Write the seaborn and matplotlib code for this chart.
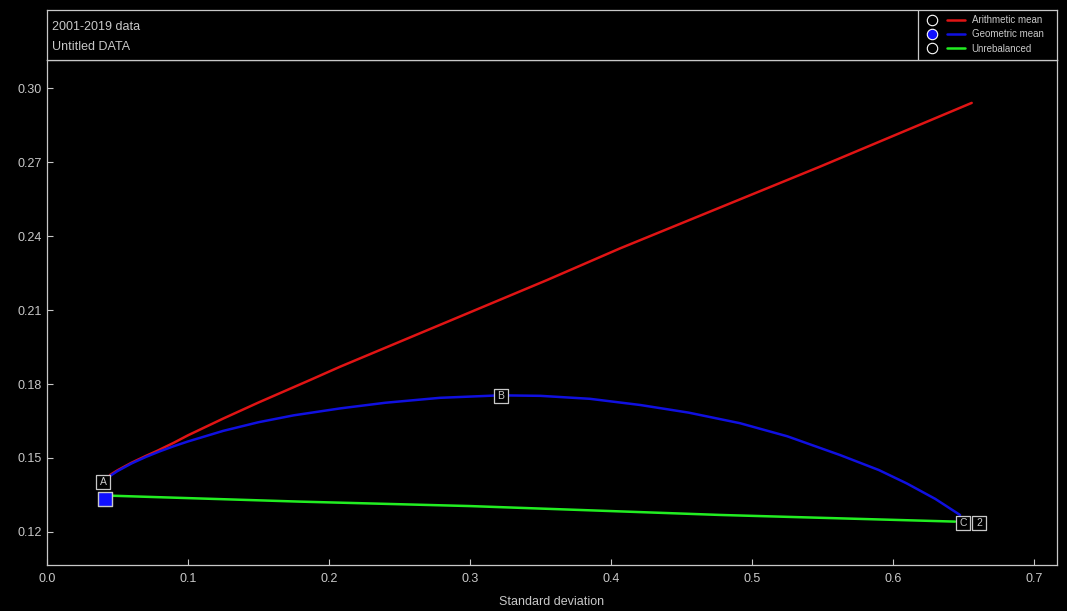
import pandas as pd
import matplotlib.pyplot as plt
import seaborn as sns
from matplotlib.lines import Line2D
from matplotlib.legend_handler import HandlerTuple

sns.set_theme(style='dark')
plt.rcParams['font.family'] = ['Liberation Sans', 'DejaVu Sans']

# DATA ----
arith_x = [0.0447, 0.050, 0.060, 0.070, 0.0778, 0.090, 0.100, 0.125, 0.150, 0.1865, 0.2078, 0.3544, 0.4064,
           0.548, 0.6558]
arith_y = [0.1431, 0.1450, 0.1481, 0.1508, 0.1528, 0.1562, 0.1592, 0.1660, 0.1725, 0.1816, 0.1870, 0.2221,
           0.2350, 0.2681, 0.2940]

geo_x = [0.0447, 0.050, 0.060, 0.070, 0.080, 0.090, 0.100, 0.125, 0.150, 0.175, 0.2078, 0.240, 0.2787,
         0.3213, 0.350, 0.385, 0.4206, 0.455, 0.4915, 0.525, 0.5624, 0.590, 0.6097, 0.630, 0.6475]
geo_y = [0.1427, 0.1447, 0.1478, 0.1504, 0.1527, 0.1548, 0.1567, 0.1610, 0.1645, 0.1673, 0.1701, 0.1724,
         0.1744, 0.1754, 0.1752, 0.1740, 0.1715, 0.1684, 0.1641, 0.1588, 0.1512, 0.1451, 0.1397, 0.1334,
         0.1269]

unreb_x = [0.0459, 0.1794, 0.3000, 0.4773, 0.6440]
unreb_y = [0.1347, 0.1323, 0.1305, 0.1269, 0.1242]

series_names = ['Arithmetic mean', 'Geometric mean', 'Unrebalanced']
series_colors = ['#e01414', '#1010e0', '#22ee22']

point_labels = ['A', 'B', 'C', '2']
point_x = [0.0397, 0.322, 0.6496, 0.661]
point_y = [0.1403, 0.1751, 0.1236, 0.1236]

square_x = [0.0411]
square_y = [0.1334]

header_lines = ['2001-2019 data', 'Untitled DATA']

# BUILDING THE TABLE ----
df = pd.concat([
    pd.DataFrame({'x': arith_x, 'y': arith_y, 'series': series_names[0]}),
    pd.DataFrame({'x': geo_x, 'y': geo_y, 'series': series_names[1]}),
    pd.DataFrame({'x': unreb_x, 'y': unreb_y, 'series': series_names[2]}),
], ignore_index=True)

fg = '#c8c8c8'
W, H = 1067, 611
fig = plt.figure(figsize=(W / 100, H / 100), dpi=100, facecolor='black')

# MAIN AXES ----
ax = fig.add_axes([47 / W, (H - 565) / H, (1057 - 47) / W, (565 - 60) / H])
ax.set_facecolor('black')
sns.lineplot(data=df, x='x', y='y', hue='series', palette=dict(zip(series_names, series_colors)),
             sort=False, estimator=None, linewidth=1.8, legend=False, ax=ax)

ax.scatter(square_x, square_y, marker='s', s=105, color='#1010ff', edgecolor=fg, linewidth=1, zorder=5)
ax.scatter(point_x, point_y, marker='s', s=110, color='black', edgecolor=fg, linewidth=0.9, zorder=6)
for lab, px, py in zip(point_labels, point_x, point_y):
    ax.text(px, py, lab, ha='center', va='center', fontsize=7.5, color=fg, zorder=7)

ax.set_xlim(0, 0.7163)
ax.set_ylim(0.1066, 0.3114)
ax.set_xticks([0.0, 0.1, 0.2, 0.3, 0.4, 0.5, 0.6, 0.7])
ax.set_yticks([0.12, 0.15, 0.18, 0.21, 0.24, 0.27, 0.30])
ax.set_xticklabels(['0.0', '0.1', '0.2', '0.3', '0.4', '0.5', '0.6', '0.7'])
ax.set_yticklabels(['0.12', '0.15', '0.18', '0.21', '0.24', '0.27', '0.30'])
ax.tick_params(colors=fg, labelsize=9, direction='in', length=4, width=0.8, bottom=True, left=True)
ax.tick_params(axis='x', pad=6)
ax.set_xlabel('Standard deviation', color=fg, fontsize=9, labelpad=8)
ax.set_ylabel('')
ax.grid(False)
for sp in ax.spines.values():
    sp.set_visible(True)
    sp.set_color(fg)
    sp.set_linewidth(0.9)

# HEADER BOX ----
hx = fig.add_axes([47 / W, (H - 60) / H, (1057 - 47) / W, 50 / H])
hx.set_facecolor('black')
hx.set_xlim(0, 1010)
hx.set_ylim(50, 0)
hx.set_xticks([])
hx.set_yticks([])
for sp in hx.spines.values():
    sp.set_visible(True)
    sp.set_color(fg)
    sp.set_linewidth(0.9)
hx.text(5, 17, header_lines[0], color=fg, fontsize=9, va='center', ha='left')
hx.text(5, 37, header_lines[1], color=fg, fontsize=9, va='center', ha='left')
hx.axvline(918 - 47, color=fg, linewidth=0.9)

marker_faces = ['black', '#1010ff', 'black']
handles = [(Line2D([], [], marker='o', ls='none', markersize=7.5, markerfacecolor=mf, markeredgecolor='white',
                   markeredgewidth=0.8),
            Line2D([], [], color=c, linewidth=1.8))
           for mf, c in zip(marker_faces, series_colors)]
hx.legend(handles, series_names, handler_map={tuple: HandlerTuple(ndivide=None, pad=0.6)},
          loc='upper left', bbox_to_anchor=((923 - 47) / 1010, 1 - 5 / 50), frameon=False, fontsize=7,
          labelcolor=fg, handlelength=4.3, handletextpad=0.7, labelspacing=0.45, borderpad=0,
          borderaxespad=0)

fig.savefig('out.png', dpi=100, facecolor='black')
